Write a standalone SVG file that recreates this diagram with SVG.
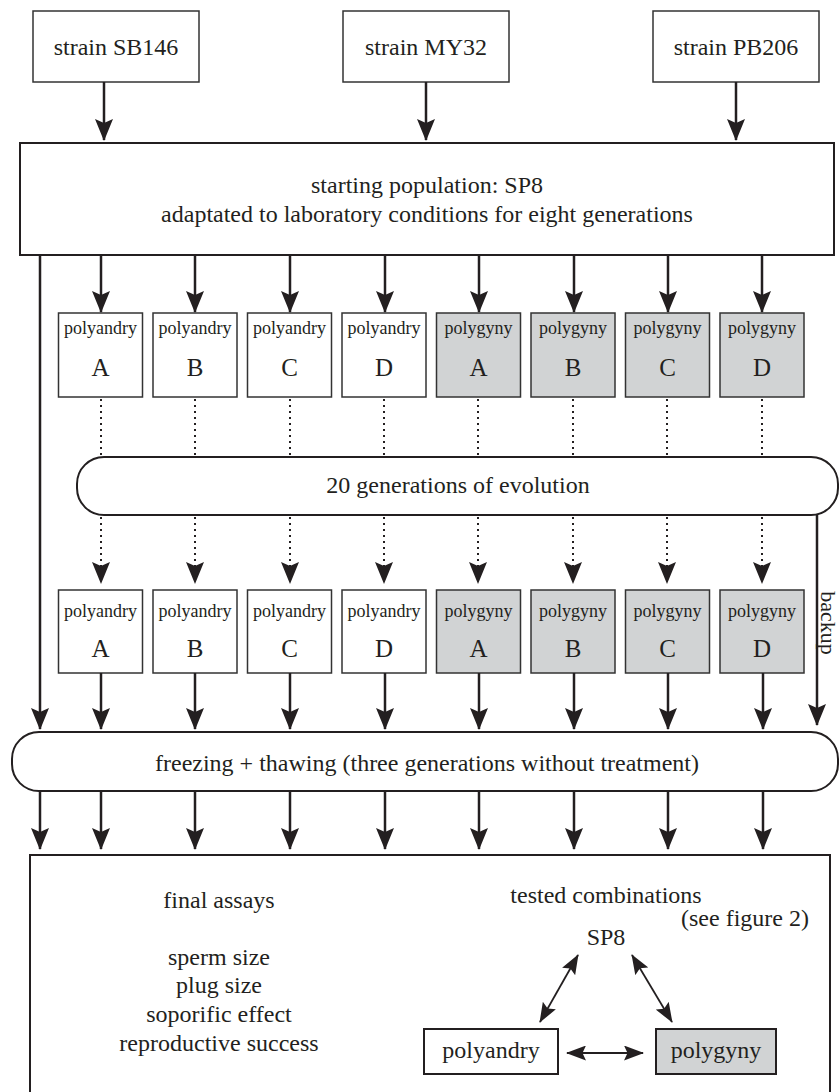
<svg xmlns="http://www.w3.org/2000/svg" width="840" height="1092" viewBox="0 0 840 1092">
<defs>
<style>
text{font-family:"Liberation Serif","Times New Roman",serif;fill:#231f20;text-anchor:middle}
.t{font-size:24px}
.s{font-size:18px}
.L{font-size:25px}
.box{fill:#fff;stroke:#333;stroke-width:1.5}
.g{fill:#d1d3d4}
.big{fill:#fff;stroke:#231f20;stroke-width:2}
.ar{stroke:#231f20;stroke-width:2.5;fill:none;marker-end:url(#ah)}
.dot{stroke:#231f20;stroke-width:2;fill:none;stroke-dasharray:2 4;marker-end:url(#ah)}
.da{stroke:#231f20;stroke-width:1.8;fill:none;marker-start:url(#sh);marker-end:url(#sh)}
</style>
<marker id="ah" markerUnits="userSpaceOnUse" viewBox="0 0 22 18" markerWidth="22" markerHeight="18" refX="21" refY="9" orient="auto">
<path d="M0,0 L22,9 L0,18 L4,9 z" fill="#231f20"/>
</marker>
<marker id="sh" markerUnits="userSpaceOnUse" viewBox="0 0 20 15" markerWidth="20" markerHeight="15" refX="19" refY="7.5" orient="auto-start-reverse">
<path d="M0,0 L20,7.5 L0,15 L3.5,7.5 z" fill="#231f20"/>
</marker>
</defs>

<g id="strain-SB146"><rect class="box" x="33" y="11" width="166" height="71"/><text class="t" x="116" y="55">strain SB146</text></g>
<g id="strain-MY32"><rect class="box" x="343" y="11" width="166" height="71"/><text class="t" x="426" y="55">strain MY32</text></g>
<g id="strain-PB206"><rect class="box" x="653" y="11" width="166" height="71"/><text class="t" x="736" y="55">strain PB206</text></g>

<g id="sp8"><rect class="big" x="20" y="143" width="814" height="112"/>
<text class="t" x="427" y="193">starting population: SP8</text>
<text class="t" x="427" y="222">adaptated to laboratory conditions for eight generations</text></g>

<g id="row1">
<g id="r1-pa-A"><rect class="box" x="58.5" y="313" width="84" height="84"/><text class="s" x="100.5" y="334">polyandry</text><text class="L" x="100.5" y="376">A</text></g>
<g id="r1-pa-B"><rect class="box" x="153" y="313" width="84" height="84"/><text class="s" x="195" y="334">polyandry</text><text class="L" x="195" y="376">B</text></g>
<g id="r1-pa-C"><rect class="box" x="247.5" y="313" width="84" height="84"/><text class="s" x="289.5" y="334">polyandry</text><text class="L" x="289.5" y="376">C</text></g>
<g id="r1-pa-D"><rect class="box" x="342" y="313" width="84" height="84"/><text class="s" x="384" y="334">polyandry</text><text class="L" x="384" y="376">D</text></g>
<g id="r1-pg-A"><rect class="box g" x="436.5" y="313" width="84" height="84"/><text class="s" x="478.5" y="334">polygyny</text><text class="L" x="478.5" y="376">A</text></g>
<g id="r1-pg-B"><rect class="box g" x="531" y="313" width="84" height="84"/><text class="s" x="573" y="334">polygyny</text><text class="L" x="573" y="376">B</text></g>
<g id="r1-pg-C"><rect class="box g" x="625.5" y="313" width="84" height="84"/><text class="s" x="667.5" y="334">polygyny</text><text class="L" x="667.5" y="376">C</text></g>
<g id="r1-pg-D"><rect class="box g" x="720" y="313" width="84" height="84"/><text class="s" x="762" y="334">polygyny</text><text class="L" x="762" y="376">D</text></g>
</g>

<g id="evolution"><rect class="big" x="77" y="457" width="761" height="58" rx="27" ry="27"/><text class="t" x="458" y="493">20 generations of evolution</text></g>

<g id="row2">
<g id="r2-pa-A"><rect class="box" x="58.5" y="590" width="84" height="83"/><text class="s" x="100.5" y="617">polyandry</text><text class="L" x="100.5" y="657">A</text></g>
<g id="r2-pa-B"><rect class="box" x="153" y="590" width="84" height="83"/><text class="s" x="195" y="617">polyandry</text><text class="L" x="195" y="657">B</text></g>
<g id="r2-pa-C"><rect class="box" x="247.5" y="590" width="84" height="83"/><text class="s" x="289.5" y="617">polyandry</text><text class="L" x="289.5" y="657">C</text></g>
<g id="r2-pa-D"><rect class="box" x="342" y="590" width="84" height="83"/><text class="s" x="384" y="617">polyandry</text><text class="L" x="384" y="657">D</text></g>
<g id="r2-pg-A"><rect class="box g" x="436.5" y="590" width="84" height="83"/><text class="s" x="478.5" y="617">polygyny</text><text class="L" x="478.5" y="657">A</text></g>
<g id="r2-pg-B"><rect class="box g" x="531" y="590" width="84" height="83"/><text class="s" x="573" y="617">polygyny</text><text class="L" x="573" y="657">B</text></g>
<g id="r2-pg-C"><rect class="box g" x="625.5" y="590" width="84" height="83"/><text class="s" x="667.5" y="617">polygyny</text><text class="L" x="667.5" y="657">C</text></g>
<g id="r2-pg-D"><rect class="box g" x="720" y="590" width="84" height="83"/><text class="s" x="762" y="617">polygyny</text><text class="L" x="762" y="657">D</text></g>
</g>

<g id="freezing"><rect class="big" x="12" y="732" width="826" height="59" rx="27" ry="27"/><text class="t" x="427" y="771">freezing + thawing (three generations without treatment)</text></g>

<g id="final"><rect class="big" x="30" y="855" width="800" height="260"/>
<text class="t" x="219" y="908">final assays</text>
<text class="t" x="219" y="965">sperm size</text>
<text class="t" x="219" y="993">plug size</text>
<text class="t" x="219" y="1022">soporific effect</text>
<text class="t" x="219" y="1051">reproductive success</text>
<text class="t" x="606" y="903">tested combinations</text>
<text class="t" x="745" y="926">(see figure 2)</text>
<text class="t" x="606" y="945">SP8</text>
</g>
<g id="combo-polyandry"><rect x="424" y="1029" width="134" height="45" fill="#fff" stroke="#231f20" stroke-width="2"/><text class="t" x="491" y="1058">polyandry</text></g>
<g id="combo-polygyny"><rect x="656" y="1029" width="120" height="45" fill="#d1d3d4" stroke="#231f20" stroke-width="2"/><text class="t" x="716" y="1058">polygyny</text></g>

<g id="connectors">
<line class="ar" x1="104" y1="82" x2="104" y2="140"/>
<line class="ar" x1="426" y1="82" x2="426" y2="140"/>
<line class="ar" x1="736" y1="82" x2="736" y2="140"/>

<line class="ar" x1="101" y1="255" x2="101" y2="312"/>
<line class="ar" x1="195" y1="255" x2="195" y2="312"/>
<line class="ar" x1="290" y1="255" x2="290" y2="312"/>
<line class="ar" x1="385" y1="255" x2="385" y2="312"/>
<line class="ar" x1="479" y1="255" x2="479" y2="312"/>
<line class="ar" x1="574" y1="255" x2="574" y2="312"/>
<line class="ar" x1="668" y1="255" x2="668" y2="312"/>
<line class="ar" x1="762" y1="255" x2="762" y2="312"/>

<g stroke="#231f20" stroke-width="2" stroke-dasharray="2 4">
<line x1="101" y1="399" x2="101" y2="457"/>
<line x1="195" y1="399" x2="195" y2="457"/>
<line x1="290" y1="399" x2="290" y2="457"/>
<line x1="384" y1="399" x2="384" y2="457"/>
<line x1="478" y1="399" x2="478" y2="457"/>
<line x1="573" y1="399" x2="573" y2="457"/>
<line x1="667" y1="399" x2="667" y2="457"/>
<line x1="762" y1="399" x2="762" y2="457"/>
</g>

<line class="dot" x1="101" y1="517" x2="101" y2="583"/>
<line class="dot" x1="195" y1="517" x2="195" y2="583"/>
<line class="dot" x1="290" y1="517" x2="290" y2="583"/>
<line class="dot" x1="384" y1="517" x2="384" y2="583"/>
<line class="dot" x1="478" y1="517" x2="478" y2="583"/>
<line class="dot" x1="573" y1="517" x2="573" y2="583"/>
<line class="dot" x1="667" y1="517" x2="667" y2="583"/>
<line class="dot" x1="762" y1="517" x2="762" y2="583"/>

<line class="ar" x1="40" y1="255" x2="40" y2="729"/>
<line class="ar" x1="101" y1="673" x2="101" y2="729"/>
<line class="ar" x1="195" y1="673" x2="195" y2="729"/>
<line class="ar" x1="290" y1="673" x2="290" y2="729"/>
<line class="ar" x1="385" y1="673" x2="385" y2="729"/>
<line class="ar" x1="479" y1="673" x2="479" y2="729"/>
<line class="ar" x1="574" y1="673" x2="574" y2="729"/>
<line class="ar" x1="668" y1="673" x2="668" y2="729"/>
<line class="ar" x1="763" y1="673" x2="763" y2="729"/>
<line class="ar" x1="817" y1="514" x2="817" y2="725"/>

<line class="ar" x1="40" y1="791" x2="40" y2="849"/>
<line class="ar" x1="101" y1="791" x2="101" y2="849"/>
<line class="ar" x1="195" y1="791" x2="195" y2="849"/>
<line class="ar" x1="290" y1="791" x2="290" y2="849"/>
<line class="ar" x1="385" y1="791" x2="385" y2="849"/>
<line class="ar" x1="479" y1="791" x2="479" y2="849"/>
<line class="ar" x1="574" y1="791" x2="574" y2="849"/>
<line class="ar" x1="668" y1="791" x2="668" y2="849"/>
<line class="ar" x1="763" y1="791" x2="763" y2="849"/>

<line class="da" x1="578" y1="955" x2="540" y2="1022"/>
<line class="da" x1="632" y1="955" x2="672" y2="1022"/>
<line class="da" x1="567" y1="1053" x2="643" y2="1053"/>
</g>

<text class="t" transform="translate(821,623) rotate(90)" x="0" y="0" style="font-size:22px">backup</text>
</svg>
